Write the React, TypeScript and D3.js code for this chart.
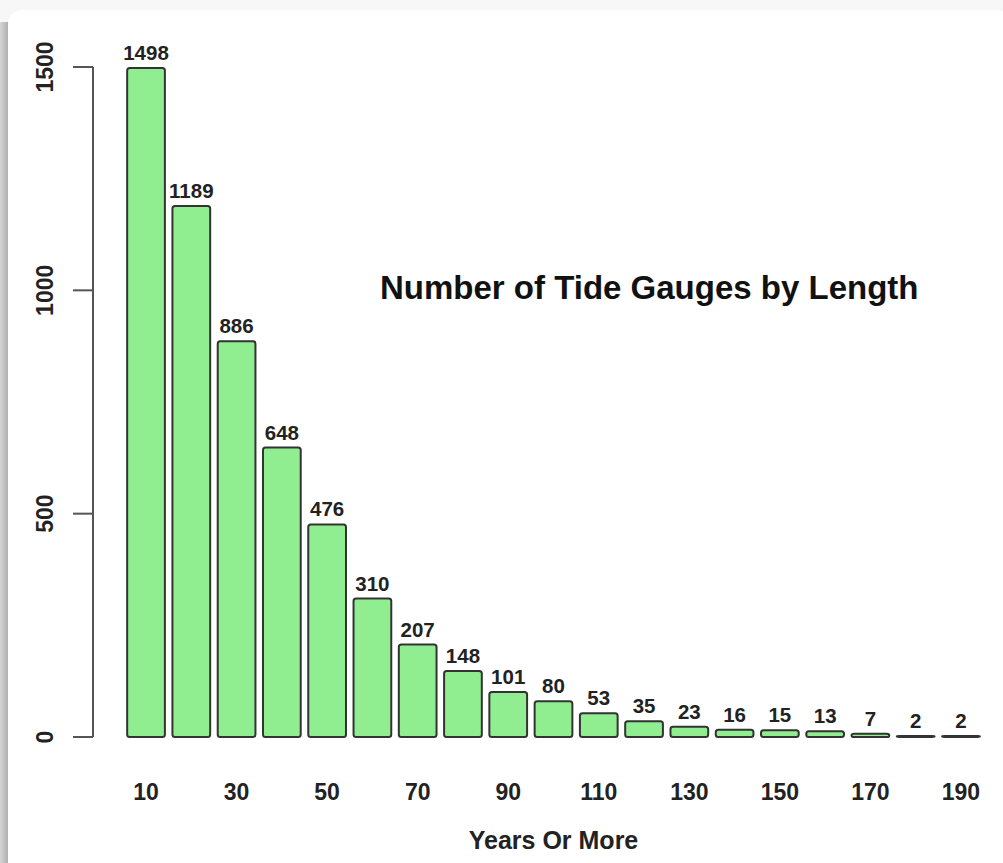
import React from "react";
import * as d3 from "d3";

const categories = [10, 20, 30, 40, 50, 60, 70, 80, 90, 100, 110, 120, 130, 140, 150, 160, 170, 180, 190];
const counts = [1498, 1189, 886, 648, 476, 310, 207, 148, 101, 80, 53, 35, 23, 16, 15, 13, 7, 2, 2];
const shownTickLabels = [10, 30, 50, 70, 90, 110, 130, 150, 170, 190];
const yTicks = [0, 500, 1000, 1500];
const titleText = "Number of Tide Gauges by Length";
const xTitle = "Years Or More";

const W = 1003;
const H = 863;
const FONT = "'Liberation Sans', Arial, Helvetica, sans-serif";

export default function App() {
  const x = d3
    .scaleBand<number>()
    .domain(categories)
    .range([123.4, 983.6])
    .paddingInner(0.1667)
    .paddingOuter(0.0833);
  const y = d3.scaleLinear().domain([0, 1500]).range([737, 67]);
  const axisX = 93;

  return (
    <svg
      width={W}
      height={H}
      style={{ position: "absolute", left: 0, top: 0, display: "block" }}
      fontFamily={FONT}
    >
      <defs>
        <linearGradient id="lshadow" x1="0" x2="1" y1="0" y2="0">
          <stop offset="0" stopColor="#d6d6d6" />
          <stop offset="0.8" stopColor="#b4b4b4" />
          <stop offset="1" stopColor="#9a9a9a" />
        </linearGradient>
        <linearGradient id="tshadow" x1="0" x2="0" y1="0" y2="1">
          <stop offset="0" stopColor="#f7f7f7" />
          <stop offset="1" stopColor="#ececec" />
        </linearGradient>
      </defs>
      <rect x={0} y={0} width={W} height={H} fill="url(#tshadow)" />
      <rect x={0} y={22} width={9} height={H - 22} fill="url(#lshadow)" />
      <rect x={8} y={10} width={W} height={H + 20} rx={14} fill="#ffffff" />

      {/* y axis */}
      <line x1={axisX} x2={axisX} y1={y(0)} y2={y(1500)} stroke="#555" strokeWidth={2} />
      {yTicks.map((t) => (
        <g key={t}>
          <line x1={axisX - 20} x2={axisX} y1={y(t)} y2={y(t)} stroke="#555" strokeWidth={2} />
          <text
            transform={`translate(53, ${y(t)}) rotate(-90)`}
            textAnchor="middle"
            fontSize={23}
            fontWeight="bold"
            fill="#222"
          >
            {t}
          </text>
        </g>
      ))}

      {/* bars */}
      {categories.map((c, i) => {
        const v = counts[i];
        const bx = x(c)!;
        const top = y(v);
        return (
          <g key={c}>
            <rect
              x={bx}
              y={top}
              width={x.bandwidth()}
              height={Math.max(0, y(0) - top)}
              rx={2.5}
              fill="#90ee90"
              stroke="#333"
              strokeWidth={2}
            />
            <text
              x={bx + x.bandwidth() / 2}
              y={top - 8}
              textAnchor="middle"
              fontSize={20.5}
              fontWeight="bold"
              fill="#222"
            >
              {v}
            </text>
          </g>
        );
      })}

      {/* x tick labels */}
      {shownTickLabels.map((c) => (
        <text
          key={c}
          x={x(c)! + x.bandwidth() / 2}
          y={800}
          textAnchor="middle"
          fontSize={23}
          fontWeight="bold"
          fill="#222"
        >
          {c}
        </text>
      ))}

      <text x={553.5} y={849} textAnchor="middle" fontSize={25} fontWeight="bold" fill="#222">
        {xTitle}
      </text>

      <text x={380} y={299} fontSize={33} fontWeight="bold" fill="#111">
        {titleText}
      </text>
    </svg>
  );
}
